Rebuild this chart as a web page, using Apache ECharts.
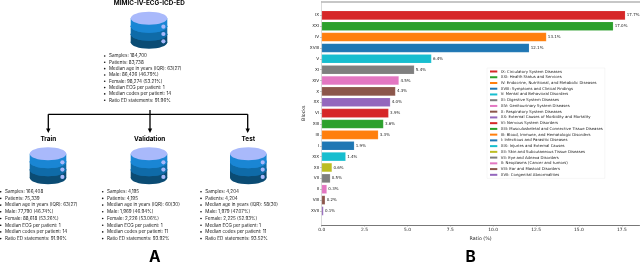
<!DOCTYPE html>
<html><head><meta charset="utf-8">
<style>html,body{margin:0;padding:0;background:#fff}#c{width:640px;height:263px;filter:blur(0.3px)}</style>
<script src="https://cdn.jsdelivr.net/npm/echarts@6/dist/echarts.min.js"></script>
</head><body><div id="c"></div>
<script>
const blocks = ['IX','XXI','IV','XVIII','V','XI','XIV','X','XX','VI','XIII','III','I','XIX','XII','VII','II','VIII','XVII'];
const ratios = [17.7,17.0,13.1,12.1,6.4,5.4,4.5,4.3,4.0,3.9,3.6,3.3,1.9,1.4,0.6,0.5,0.3,0.2,0.1];
const blockNames = [
 'IX: Circulatory System Diseases','XXI: Health Status and Services',
 'IV: Endocrine, Nutritional, and Metabolic Diseases','XVIII: Symptoms and Clinical Findings',
 'V: Mental and Behavioral Disorders','XI: Digestive System Diseases',
 'XIV: Genitourinary System Diseases','X: Respiratory System Diseases',
 'XX: External Causes of Morbidity and Mortality','VI: Nervous System Disorders',
 'XIII: Musculoskeletal and Connective Tissue Diseases','III: Blood, Immune, and Hematologic Disorders',
 'I: Infectious and Parasitic Diseases','XIX: Injuries and External Causes',
 'XII: Skin and Subcutaneous Tissue Diseases','VII: Eye and Adnexa Disorders',
 'II: Neoplasms (Cancer and tumors)','VIII: Ear and Mastoid Disorders','XVII: Congenital Abnormalities'];
const barColors = ['#d62728','#2ca02c','#ff7f0e','#1f77b4','#17becf','#7f7f7f','#e377c2','#8c564b','#9467bd','#d62728','#2ca02c','#ff7f0e','#1f77b4','#17becf','#bcbd22','#7f7f7f','#e377c2','#8c564b','#9467bd'];
const xTicks = [0,2.5,5,7.5,10,12.5,15,17.5];
const mainStats = ['Samples: 184,700','Patients: 83,738','Median age in years (IQR): 63(27)','Male: 86,426 (46.79%)','Female: 98,274 (53.21%)','Median ECG per patient: 1','Median codes per patient: 14','Ratio ED statements: 91.96%'];
const trainStats = ['Samples: 166,408','Patients: 75,339','Median age in years (IQR): 63(27)','Male: 77,790 (46.74%)','Female: 88,618 (53.26%)','Median ECG per patient: 1','Median codes per patient: 14','Ratio ED statements: 91.96%'];
const valStats = ['Samples: 4,195','Patients: 4,195','Median age in years (IQR): 60(30)','Male: 1,969 (46.94%)','Female: 2,226 (53.06%)','Median ECG per patient: 1','Median codes per patient: 11','Ratio ED statements: 93.92%'];
const testStats = ['Samples: 4,204','Patients: 4,204','Median age in years (IQR): 58(30)','Male: 1,979 (47.07%)','Female: 2,225 (52.93%)','Median ECG per patient: 1','Median codes per patient: 11','Ratio ED statements: 93.52%'];

const FONT_A = 'Inter, "Noto Sans", sans-serif';
const FONT_B = '"DejaVu Sans", sans-serif';
const g = [];
function label(text,x,y,size,weight,align,fill){
  g.push({type:'text',silent:true,style:{text,x,y,fontSize:size,fontWeight:weight||'normal',fontFamily:FONT_A,textAlign:align||'left',textVerticalAlign:'middle',fill:fill||'#222'}});
}
function cylinder(cx,top){
  const w=36.6, ry=6.5, fills=['#0b4c74','#0f6ba8','#1a86d4'], centers=[30.5,22.5,14.5,6.5];
  fills.forEach((f,i)=>{
    g.push({type:'ellipse',silent:true,shape:{cx,cy:top+centers[i],rx:w/2,ry},style:{fill:f}});
    g.push({type:'rect',silent:true,shape:{x:cx-w/2,y:top+centers[i+1],width:w,height:8},style:{fill:f}});
    if(i<2) g.push({type:'ellipse',silent:true,shape:{cx,cy:top+centers[i+1],rx:w/2,ry},style:{fill:fills[i+1]}});
  });
  g.push({type:'ellipse',silent:true,shape:{cx,cy:top+6.5,rx:w/2,ry},style:{fill:'#a9b9fb'}});
  [15,22.3,29.6].forEach(d=>g.push({type:'circle',silent:true,shape:{cx:cx+14.4,cy:top+d,r:2.1},style:{fill:'#a9b9fb'}}));
}
function stats(list,x,y0,step){
  list.forEach((t,i)=>{
    g.push({type:'circle',silent:true,shape:{cx:x-4.3,cy:y0+i*step,r:0.8},style:{fill:'#111'}});
    label(t,x,y0+i*step,4.55);
  });
}
function seg(x1,y1,x2,y2){g.push({type:'line',silent:true,shape:{x1,y1,x2,y2},style:{stroke:'#000',lineWidth:1.3}});}
function arrow(x,y){g.push({type:'polygon',silent:true,shape:{points:[[x-2.2,y-4.5],[x+2.2,y-4.5],[x,y]]},style:{fill:'#000'}});}

label('MIMIC-IV-ECG-ICD-ED',149.3,3.2,6.35,'bold','center','#000');
cylinder(149,11.7); stats(mainStats,109,56,6.32);
seg(48.3,114.3,247.7,114.3); seg(48.3,114.3,48.3,130); seg(150,110,150,130); seg(247.7,114.3,247.7,130);
arrow(48.3,133); arrow(150,133); arrow(247.7,133);
label('Train',48.3,139.5,6.4,'bold','center','#000');
label('Validation',149.7,139.5,6.4,'bold','center','#000');
label('Test',248.3,139.5,6.4,'bold','center','#000');
cylinder(48,147.3); cylinder(149,147.3); cylinder(248.3,147.3);
stats(trainStats,5,191.7,6.7); stats(valStats,107,191.7,6.7); stats(testStats,205.3,191.7,6.7);
label('A',154.7,257,15.5,'bold','center','#000');
label('B',470.7,257,15.5,'bold','center','#000');
g.push({type:'line',silent:true,shape:{x1:321.5,y1:1,x2:321.5,y2:225},style:{stroke:'#cfcfcf',lineWidth:0.8}});

const series = blocks.map((b,i)=>({
  type:'bar',name:blockNames[i],stack:'r',barWidth:9,
  itemStyle:{color:barColors[i],borderColor:'rgba(255,255,255,0.3)',borderWidth:0.4},
  label:{show:true,position:'right',distance:1.5,fontSize:4,fontFamily:FONT_B,color:'#222',formatter:p=>p.value.toFixed(1)+'%'},
  data:blocks.map((_,j)=>j===i?ratios[i]:'-')
}));

const chart = echarts.init(document.getElementById('c'),null,{renderer:'canvas'});
const xMax = 18.53;
chart.setOption({
  animation:false,backgroundColor:'#fff',
  grid:{left:321.7,right:0.5,top:9.9,height:206.5,containLabel:false},
  legend:{orient:'vertical',left:487,top:68,padding:[1.5,2,1.5,3],itemWidth:7.3,itemHeight:2,itemGap:1.74,icon:'rect',
    selectedMode:false,backgroundColor:'#fff',borderColor:'#ececec',borderWidth:0.5,
    itemStyle:{borderWidth:0},
    textStyle:{fontSize:3.85,lineHeight:4,height:4,fontFamily:FONT_B,color:'#222',padding:[0,0,0,-1.5]},
    data:blockNames},
  xAxis:[
    {type:'value',min:0,max:xMax,position:'bottom',offset:8.6,
     name:'Ratio (%)',nameLocation:'middle',nameGap:10,nameTextStyle:{fontSize:4.8,fontFamily:FONT_B,color:'#222'},
     axisLine:{show:true,lineStyle:{color:'#777',width:1}},
     axisTick:{show:true,length:1.5,customValues:xTicks,lineStyle:{color:'#777',width:0.5}},
     axisLabel:{show:true,fontSize:4.4,margin:2.5,fontFamily:FONT_B,color:'#222',customValues:xTicks,formatter:v=>v.toFixed(1)},
     splitLine:{show:false}},
    {type:'value',min:0,max:xMax,position:'top',offset:8.6,
     axisLine:{show:true,lineStyle:{color:'#b5b5b5',width:1.6}},axisTick:{show:false},axisLabel:{show:false},splitLine:{show:false}}
  ],
  yAxis:{type:'category',inverse:true,data:blocks,
    name:'Blocks',nameLocation:'middle',nameRotate:90,nameGap:14.5,nameTextStyle:{fontSize:4.8,fontFamily:FONT_B,color:'#222'},
    axisLine:{show:false},
    axisTick:{show:true,alignWithLabel:true,length:1.5,lineStyle:{color:'#777',width:0.5}},
    axisLabel:{fontSize:4.2,margin:2.5,fontFamily:FONT_B,color:'#222',interval:0}},
  series,
  graphic:{elements:g}
});
</script></body></html>
